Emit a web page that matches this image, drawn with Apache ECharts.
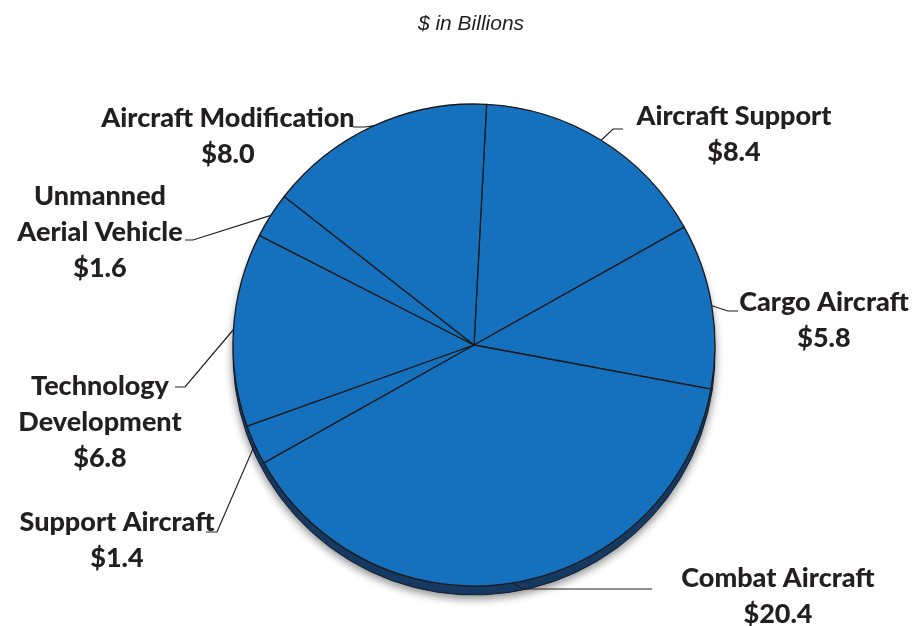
<!DOCTYPE html>
<html>
<head>
<meta charset="utf-8">
<script src="https://cdn.jsdelivr.net/npm/echarts@6/dist/echarts.min.js"></script>
<style>
  html, body { margin: 0; padding: 0; background: #ffffff; }
  #chart { width: 912px; height: 626px; }
</style>
</head>
<body>
<div id="chart"></div>
<script>
// Budget categories, clockwise from the top of the pie
const categories = [
  'Aircraft Support',
  'Cargo Aircraft',
  'Combat Aircraft',
  'Support Aircraft',
  'Technology\nDevelopment',
  'Unmanned\nAerial Vehicle',
  'Aircraft Modification'
];
// Amounts in billions of dollars
const values = [8.4, 5.8, 20.4, 1.4, 6.8, 1.6, 8.0];

const unitTitle = '$ in Billions';

// Label placement: block centre, elbow point and end of the leader line
const labelPlacement = {
  'Aircraft Support':         { x: 734, y: 134, elbow: [613, 129], end: [623, 129] },
  'Cargo Aircraft':           { x: 824, y: 320, elbow: [728, 311], end: [738, 311] },
  'Combat Aircraft':          { x: 778, y: 596, elbow: [522, 589], end: [652, 589] },
  'Support Aircraft':         { x: 117, y: 540, elbow: [217, 532], end: [206, 532] },
  'Technology\nDevelopment':  { x: 100, y: 422, elbow: [185, 387], end: [175, 387] },
  'Unmanned\nAerial Vehicle': { x: 100, y: 232, elbow: [193, 240], end: [185, 240] },
  'Aircraft Modification':    { x: 228, y: 136, elbow: [365, 127], end: [353, 127] }
};

const total = values.reduce((a, b) => a + b, 0);
const pieData = categories.map((name, i) => ({ name: name, value: values[i] }));

const chart = echarts.init(document.getElementById('chart'), null, { renderer: 'canvas' });

chart.setOption({
  animation: false,
  backgroundColor: '#ffffff',
  title: {
    text: unitTitle,
    left: 466,
    top: 9,
    textAlign: 'center',
    textStyle: {
      fontFamily: 'Liberation Sans, Arial, sans-serif',
      fontStyle: 'italic',
      fontWeight: 'normal',
      fontSize: 21,
      color: '#231f20'
    }
  },
  series: [
    {
      // pie thickness drawn underneath the top face
      type: 'pie',
      silent: true,
      z: 1,
      center: [474, 354],
      radius: [0, 241],
      startAngle: 87,
      label: { show: false },
      labelLine: { show: false },
      itemStyle: {
        color: '#173a63',
        borderColor: '#0f1f33',
        borderWidth: 1,
        shadowBlur: 8,
        shadowColor: 'rgba(0,0,0,0.45)',
        shadowOffsetY: 3
      },
      data: [{ name: 'base', value: total }]
    },
    {
      type: 'pie',
      z: 2,
      center: [474, 345],
      radius: [0, 241],
      startAngle: 87,
      clockwise: true,
      itemStyle: {
        color: '#1571bd',
        borderColor: '#1a1a1a',
        borderWidth: 1.3
      },
      label: {
        show: true,
        position: 'outside',
        overflow: 'none',
        fontFamily: 'Lato, sans-serif',
        fontWeight: 900,
        fontSize: 27,
        lineHeight: 36,
        color: '#231f20',
        align: 'center',
        formatter: p => p.name + '\n$' + p.value.toFixed(1)
      },
      labelLine: {
        show: true,
        length: 15,
        length2: 10,
        lineStyle: { color: '#231f20', width: 1.2 }
      },
      labelLayout: function (params) {
        const name = pieData[params.dataIndex].name;
        const pl = labelPlacement[name];
        const start = params.labelLinePoints ? params.labelLinePoints[0] : pl.elbow;
        return {
          x: pl.x,
          y: pl.y,
          align: 'center',
          verticalAlign: 'middle',
          labelLinePoints: [start, pl.elbow, pl.end]
        };
      },
      data: pieData
    }
  ]
});
</script>
</body>
</html>
